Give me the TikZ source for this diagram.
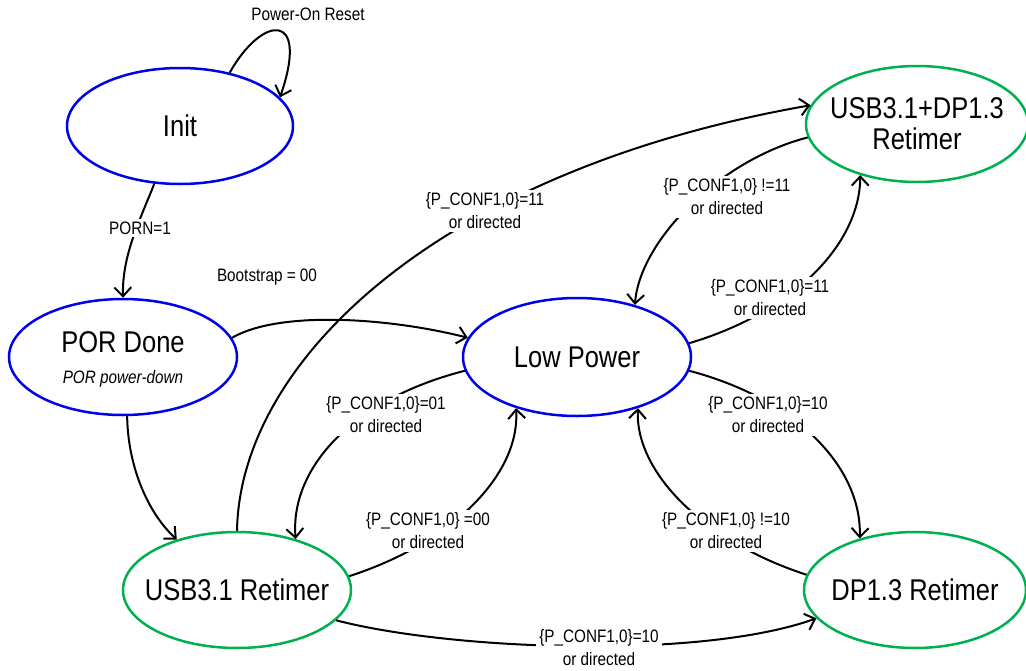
\documentclass[tikz,border=0pt]{standalone}
\usepackage{fontspec}
\setmainfont{Liberation Sans}[FakeStretch=0.85]
\usetikzlibrary{shapes.geometric,arrows.meta}
\definecolor{stblue}{RGB}{0,0,235}
\definecolor{stgreen}{RGB}{0,176,80}
\newcommand{\bigfnt}{\fontsize{30}{31}\selectfont}
\newcommand{\smallfnt}{\fontsize{18}{23}\selectfont}
\begin{document}
\begin{tikzpicture}[x=1pt,y=-1pt,
  state/.style={ellipse, draw, line width=2.5pt, inner sep=0pt, minimum height=116pt},
  bstate/.style={state, draw=stblue},
  gstate/.style={state, draw=stgreen},
  stext/.style={inner sep=0pt, align=center, font=\bigfnt},
  edge/.style={line width=2pt, -{Straight Barb[length=9pt,width=17pt,line width=2pt]}},
  elabel/.style={fill=white, inner sep=3pt, align=center, font=\smallfnt},
  plabel/.style={inner sep=0pt, align=center, font=\smallfnt}]
\useasboundingbox (0,0) rectangle (1026,670);
% states
\node[bstate, minimum width=226pt, label={[stext]center:Init}] (init) at (180,126) {};
\node[bstate, minimum width=228pt, label={[stext, yshift=15pt]center:POR Done},
  label={[plabel, font=\smallfnt\itshape, yshift=-22pt]center:POR power-down}] (por) at (123,357) {};
\node[bstate, minimum width=228pt, minimum height=118pt, label={[stext]center:Low Power}] (lp) at (577,357) {};
\node[gstate, minimum width=228pt, label={[stext]center:USB3.1 Retimer}] (usb) at (237,590) {};
\node[gstate, minimum width=222pt, label={[stext]center:DP1.3 Retimer}] (dp) at (915,590) {};
\node[gstate, minimum width=222pt, label={[stext]center:USB3.1+DP1.3\\Retimer}] (usbdp) at (917,124) {};
% edges
\draw[edge] (init.47) .. controls (262,15) and (310,10) .. (init.16);
\draw[edge] (init.246) .. controls (140,220) and (122,255) .. (por.90);
\draw[edge] (por.10) .. controls (280,310) and (390,318) .. (lp.170.5);
\draw[edge] (por.-86) .. controls (128,470) and (150,515) .. (usb.140.8);
\draw[edge] (usb.90) .. controls (240,360) and (440,170) .. (usbdp.170.5);
\draw[edge] (usbdp.187.8) .. controls (720,160) and (640,240) .. (lp.42);
\draw[edge] (lp.7.7) .. controls (800,310) and (860,240) .. (usbdp.222.3);
\draw[edge] (lp.-7.7) .. controls (800,400) and (862,470) .. (dp.137.2);
\draw[edge] (dp.172.5) .. controls (700,540) and (635,470) .. (lp.-40.4);
\draw[edge] (lp.187.7) .. controls (350,400) and (290,470) .. (usb.41.8);
\draw[edge] (usb.7.2) .. controls (460,540) and (520,470) .. (lp.220.8);
\draw[edge] (usb.-17.2) .. controls (450,650) and (700,660) .. (dp.196);
% labels
\node[plabel] (lreset) at (308,14) {Power-On Reset};
\node[elabel] (lporn) at (140,228) {PORN=1};
\node[plabel] (lboot) at (267,277) {Bootstrap = 00};
\node[elabel] (l11a) at (485,211) {\{P\_CONF1,0\}=11\\or directed};
\node[elabel] (ln11) at (727,197) {\{P\_CONF1,0\} !=11\\or directed};
\node[elabel] (l11b) at (770,298) {\{P\_CONF1,0\}=11\\or directed};
\node[elabel] (l01) at (386,415) {\{P\_CONF1,0\}=01\\or directed};
\node[elabel] (l10a) at (768,415) {\{P\_CONF1,0\}=10\\or directed};
\node[elabel] (l00) at (428,531) {\{P\_CONF1,0\} =00\\or directed};
\node[elabel] (ln10) at (726,531) {\{P\_CONF1,0\} !=10\\or directed};
\node[elabel] (l10b) at (599,648) {\{P\_CONF1,0\}=10\\or directed};
\end{tikzpicture}
\end{document}
